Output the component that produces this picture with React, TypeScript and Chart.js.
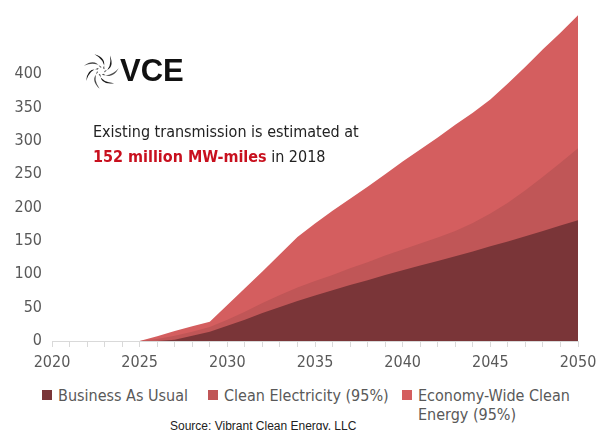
import React, { useEffect, useRef } from "react";
import { Chart, registerables } from "chart.js";

Chart.register(...registerables);

const years = [
  2020, 2021, 2022, 2023, 2024, 2025, 2026, 2027, 2028, 2029, 2030,
  2031, 2032, 2033, 2034, 2035, 2036, 2037, 2038, 2039, 2040,
  2041, 2042, 2043, 2044, 2045, 2046, 2047, 2048, 2049, 2050,
];
const businessAsUsual = [
  0, 0, 0, 0, 0, 0, 0, 2, 8, 14, 23,
  32, 42, 51, 60, 68, 76, 84, 91, 99, 106,
  113, 120, 127, 134, 142, 149, 157, 165, 173, 181,
];
const cleanElectricity = [
  0, 0, 0, 0, 0, 0, 3, 8, 14, 21, 32,
  44, 57, 69, 80, 90, 99, 109, 118, 128, 137,
  146, 155, 165, 177, 191, 207, 226, 246, 267, 289,
];
const economyWide = [
  0, 0, 0, 0, 0, 0, 7, 15, 22, 29, 54,
  79, 104, 130, 156, 176, 195, 213, 231, 250, 269,
  287, 305, 324, 342, 362, 386, 411, 437, 462, 488,
];
const seriesNames = ["Business As Usual", "Clean Electricity (95%)", "Economy-Wide Clean Energy (95%)"];
const legendLines = [["Business As Usual"], ["Clean Electricity (95%)"], ["Economy-Wide Clean", "Energy (95%)"]];
const seriesColors = ["#7A3538", "#C05657", "#D45E5F"];
const yTickValues = [0, 50, 100, 150, 200, 250, 300, 350, 400];
const xLabelYears = [2020, 2025, 2030, 2035, 2040, 2045, 2050];

const FONT = "'DejaVu Sans Condensed', 'DejaVu Sans', sans-serif";
const GREY = "#595959";

function Swirl() {
  const blades = [0, 1, 2, 3, 4, 5, 6];
  return (
    <svg width="38" height="38" viewBox="-19 -19 38 38" style={{ position: "absolute", left: 82, top: 52 }}>
      {blades.map((i) => (
        <path
          key={i}
          d="M3.5,0 Q14,-3 9,-15.5 Q11,-4 3.5,1.6 Z"
          fill={i % 2 === 0 ? "#1c1c1c" : "#4a4a4a"}
          transform={`rotate(${i * (360 / 7)})`}
        />
      ))}
    </svg>
  );
}

export default function App() {
  const canvasRef = useRef<HTMLCanvasElement | null>(null);

  useEffect(() => {
    const canvas = canvasRef.current;
    if (!canvas) return;
    const series = [businessAsUsual, cleanElectricity, economyWide];
    const chart = new Chart(canvas, {
      type: "line",
      data: {
        datasets: series.map((vals, k) => ({
          label: seriesNames[k],
          data: years.map((yr, i) => ({ x: yr, y: vals[i] })),
          backgroundColor: seriesColors[k],
          borderColor: seriesColors[k],
          borderWidth: 0,
          pointRadius: 0,
          tension: 0,
          fill: "origin",
        })),
      },
      options: {
        animation: false,
        responsive: false,
        maintainAspectRatio: false,
        layout: { padding: { top: 14, right: 22, left: 0, bottom: 0 } },
        plugins: { legend: { display: false }, tooltip: { enabled: false } },
        scales: {
          x: {
            type: "linear",
            min: 2020,
            max: 2050,
            border: { display: true, color: "#D9D9D9", width: 1 },
            grid: {
              display: true,
              drawOnChartArea: false,
              drawTicks: true,
              tickLength: 6,
              color: "#D9D9D9",
            },
            ticks: {
              stepSize: 1,
              autoSkip: false,
              maxRotation: 0,
              padding: 6,
              color: GREY,
              font: { family: FONT, size: 16 },
              callback: (v: any) => (xLabelYears.includes(Number(v)) ? String(v) : ""),
            },
            afterFit: (scale: any) => {
              scale.height = 39;
              scale.paddingLeft = 0;
              scale.paddingRight = 0;
            },
          },
          y: {
            min: 0,
            max: 490,
            border: { display: false },
            grid: { display: false, drawTicks: false },
            ticks: {
              padding: 10,
              color: GREY,
              font: { family: FONT, size: 16 },
            },
            afterBuildTicks: (scale: any) => {
              scale.ticks = yTickValues.map((v) => ({ value: v }));
            },
            afterFit: (scale: any) => {
              scale.width = 52;
              scale.paddingTop = 0;
              scale.paddingBottom = 0;
            },
          },
        },
      },
    });
    return () => chart.destroy();
  }, []);

  return (
    <div style={{ position: "absolute", left: 0, top: 0, width: 600, height: 430, background: "#fff", overflow: "hidden" }}>
      <canvas ref={canvasRef} width={600} height={380} style={{ position: "absolute", left: 0, top: 0, width: 600, height: 380 }} />
      <Swirl />
      <div
        style={{
          position: "absolute",
          left: 120,
          top: 54,
          fontFamily: "'Liberation Sans', Arial, sans-serif",
          fontWeight: 700,
          fontSize: 31,
          color: "#111",
          lineHeight: "34px",
        }}
      >
        VCE
      </div>
      <div
        style={{
          position: "absolute",
          left: 93,
          top: 119,
          fontFamily: FONT,
          fontSize: 16,
          color: "#222",
          lineHeight: "25px",
          whiteSpace: "nowrap",
        }}
      >
        <div>Existing transmission is estimated at</div>
        <div>
          <span style={{ color: "#C8101E", fontWeight: 700 }}>152 million MW-miles</span> in 2018
        </div>
      </div>
      {legendLines.map((lines, k) => {
        const lefts = [42, 208, 402];
        return (
          <div
            key={k}
            style={{
              position: "absolute",
              left: lefts[k],
              top: 386,
              display: "flex",
              alignItems: "flex-start",
              fontFamily: FONT,
              fontSize: 16,
              color: GREY,
              lineHeight: "19px",
            }}
          >
            <span
              style={{
                display: "inline-block",
                width: 10,
                height: 10,
                background: seriesColors[k],
                marginTop: 4,
                marginRight: 6,
              }}
            />
            <span>
              {lines.map((t, j) => (
                <div key={j}>{t}</div>
              ))}
            </span>
          </div>
        );
      })}
      <div
        style={{
          position: "absolute",
          left: 170,
          top: 419,
          fontFamily: "'Liberation Sans', Arial, sans-serif",
          fontSize: 12,
          color: "#222",
          whiteSpace: "nowrap",
          lineHeight: "14px",
        }}
      >
        Source: Vibrant Clean Energy, LLC
      </div>
    </div>
  );
}
